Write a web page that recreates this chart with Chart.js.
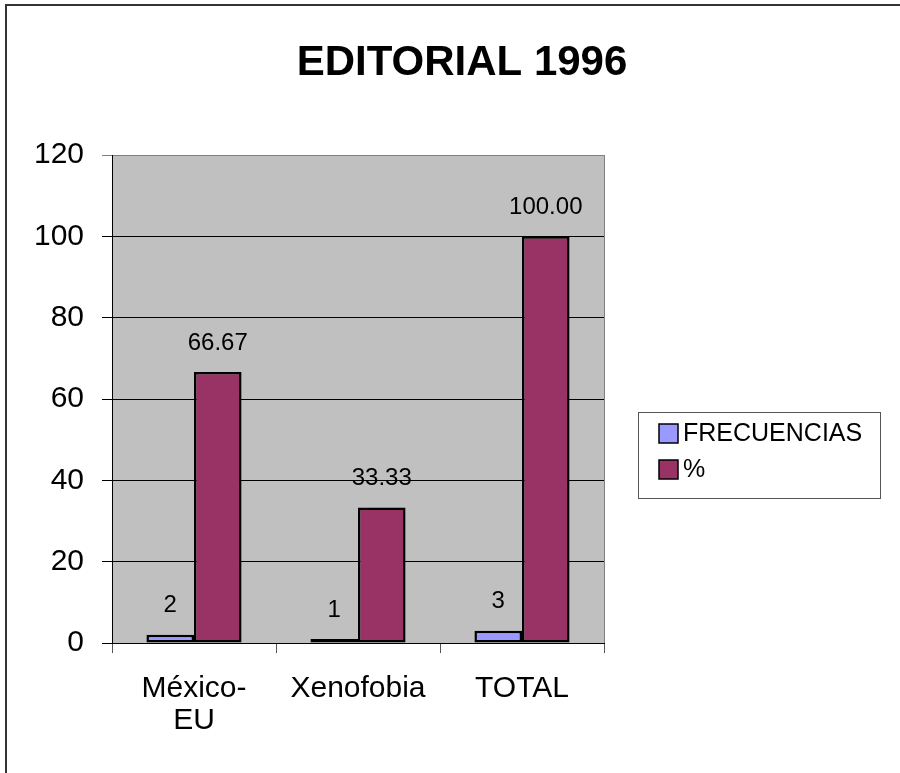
<!DOCTYPE html>
<html>
<head>
<meta charset="utf-8">
<script src="https://cdn.jsdelivr.net/npm/chart.js@4/dist/chart.umd.min.js"></script>
<style>
  html, body { margin: 0; padding: 0; background: #fff; }
  #wrap { width: 900px; height: 773px; position: relative; }
</style>
</head>
<body>
<div id="wrap"><canvas id="myChart" width="900" height="773"></canvas></div>
<script>
const categories = [['México-', 'EU'], 'Xenofobia', 'TOTAL'];
const frecuencias = [2, 1, 3];
const porcentajes = [66.67, 33.33, 100.00];
const yTicks = [0, 20, 40, 60, 80, 100, 120];

const FONT = '"Liberation Sans", Arial, sans-serif';

// frame, plot background, title, legend and value labels
const extras = {
  id: 'extras',
  beforeDraw(chart) {
    const c = chart.ctx, a = chart.chartArea;
    c.save();
    c.fillStyle = '#fff';
    c.fillRect(0, 0, chart.width, chart.height);
    c.strokeStyle = '#333';
    c.lineWidth = 2;
    c.beginPath();
    c.moveTo(6, chart.height);
    c.lineTo(6, 5);
    c.lineTo(chart.width, 5);
    c.stroke();
    c.fillStyle = '#c0c0c0';
    c.fillRect(a.left, a.top, a.right - a.left, a.bottom - a.top);
    c.restore();
  },
  afterDraw(chart) {
    const c = chart.ctx, a = chart.chartArea;
    c.save();
    // plot border on the right
    c.strokeStyle = '#808080';
    c.lineWidth = 1;
    c.beginPath();
    c.moveTo(a.right + 0.5, a.top);
    c.lineTo(a.right + 0.5, a.bottom);
    c.stroke();

    // title
    c.fillStyle = '#000';
    c.font = 'bold 42px ' + FONT;
    c.textAlign = 'center';
    c.textBaseline = 'middle';
    c.fillText('EDITORIAL 1996', 462, 63);

    // legend
    c.strokeStyle = '#555';
    c.lineWidth = 1;
    c.strokeRect(638.5, 412.5, 242, 86);
    c.font = '25px ' + FONT;
    c.textAlign = 'left';
    chart.data.datasets.forEach((ds, i) => {
      const y = 433 + i * 36;
      c.fillStyle = ds.backgroundColor;
      c.fillRect(659, y - 9, 19, 19);
      c.strokeStyle = '#000';
      c.lineWidth = 1.5;
      c.strokeRect(659, y - 9, 19, 19);
      c.fillStyle = '#000';
      c.fillText(ds.label, 683, y + 1);
    });

    // value labels
    c.font = '24px ' + FONT;
    c.textAlign = 'center';
    chart.data.datasets.forEach((ds, i) => {
      chart.getDatasetMeta(i).data.forEach((bar, j) => {
        const v = ds.data[j];
        const txt = i === 0 ? String(v) : v.toFixed(2);
        c.fillText(txt, bar.x, bar.y - 29);
      });
    });
    c.restore();
  }
};

new Chart(document.getElementById('myChart'), {
  type: 'bar',
  data: {
    labels: categories,
    datasets: [{
      label: 'FRECUENCIAS',
      data: frecuencias,
      backgroundColor: '#9999ff',
      borderColor: '#000',
      borderWidth: 2.5,
      borderSkipped: false,
      barPercentage: 1,
      categoryPercentage: 0.58
    }, {
      label: '%',
      data: porcentajes,
      backgroundColor: '#993366',
      borderColor: '#000',
      borderWidth: 2.5,
      borderSkipped: false,
      barPercentage: 1,
      categoryPercentage: 0.58
    }]
  },
  options: {
    responsive: false,
    animation: false,
    layout: { padding: { top: 155, right: 296, bottom: 0, left: 0 } },
    plugins: {
      legend: { display: false },
      title: { display: false },
      tooltip: { enabled: false }
    },
    scales: {
      y: {
        min: 0,
        max: 120,
        afterBuildTicks: (scale) => { scale.ticks = yTicks.map(v => ({ value: v })); },
        afterFit: (scale) => { scale.width = 112; },
        ticks: {
          color: '#000',
          padding: 18,
          font: { family: FONT, size: 30 }
        },
        grid: {
          color: (ctx) => ctx.tick && ctx.tick.value === 120 ? '#808080' : '#000',
          lineWidth: 1,
          tickLength: 10
        },
        border: { color: '#000', width: 1 }
      },
      x: {
        afterFit: (scale) => { scale.height = 130; },
        ticks: {
          color: '#000',
          padding: 20,
          font: { family: FONT, size: 30, lineHeight: 1.05 }
        },
        grid: {
          drawOnChartArea: false,
          color: '#555',
          tickLength: 10
        },
        border: { color: '#000', width: 1 }
      }
    }
  },
  plugins: [extras]
});
</script>
</body>
</html>
